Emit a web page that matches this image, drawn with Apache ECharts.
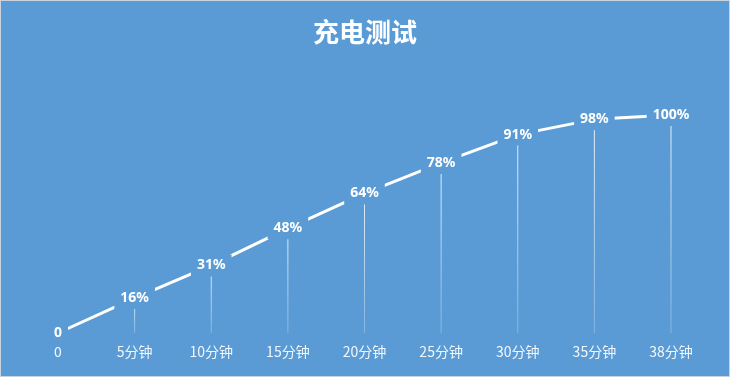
<!DOCTYPE html>
<html><head><meta charset="utf-8">
<script src="https://cdn.jsdelivr.net/npm/echarts@6/dist/echarts.min.js"></script>
<style>
html,body{margin:0;padding:0;background:#5B9BD5;}
#c{width:730px;height:377px;box-sizing:border-box;border:1px solid #c8d3de;}
</style></head>
<body><div id="c"></div>
<script>
const categories = ['0','5分钟','10分钟','15分钟','20分钟','25分钟','30分钟','35分钟','38分钟'];
const values = [0,16,31,48,64,78,91,98,100];
const titleText = '充电测试';

const chart = echarts.init(document.getElementById('c'));
const bg = '#5B9BD5';
chart.setOption({
  backgroundColor: bg,
  animation: false,
  title: {
    text: titleText, left: 'center', top: 13,
    textStyle: {color:'#fff', fontSize: 26, fontWeight: 'bold', fontFamily: 'Noto Sans CJK SC'}
  },
  grid: {left: 57, right: 58, top: 114, bottom: 43},
  xAxis: {
    type: 'category', data: categories, boundaryGap: false,
    axisLine: {show:false}, axisTick: {show:false}, splitLine:{show:false},
    axisLabel: {color:'rgba(255,255,255,0.92)', fontSize: 14, margin: 12, fontFamily:'Noto Sans CJK SC', interval: 0}
  },
  yAxis: {type:'value', min:0, max:100, show:false},
  series: [
    {
      type: 'bar', data: values, barWidth: 1, silent: true, z: 1,
      itemStyle: {color: new echarts.graphic.LinearGradient(0,0,0,1,[
        {offset:0,color:'rgba(255,255,255,0.85)'},
        {offset:1,color:'rgba(255,255,255,0.25)'}
      ])}
    },
    {
      type: 'line', data: values, symbol: 'circle', symbolSize: 1, showSymbol: true, z: 3,
      itemStyle: {color: 'rgba(255,255,255,0)'},
      lineStyle: {color:'#fff', width: 3},
      label: {
        show: true, position: 'inside',
        formatter: p => p.value === 0 ? '0' : p.value + '%',
        color: '#fff', fontSize: 14, fontWeight: 'bold', fontFamily: 'Noto Sans',
        backgroundColor: bg, padding: [4,6,4,6]
      }
    }
  ]
});
</script></body></html>
